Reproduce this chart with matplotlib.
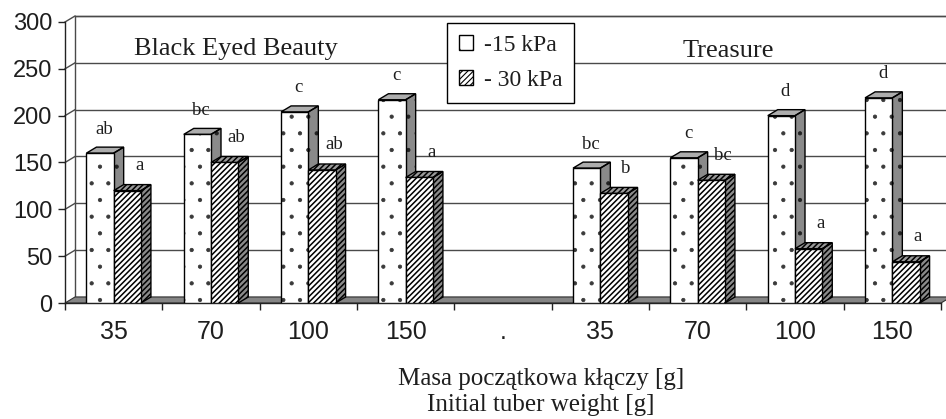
import matplotlib
matplotlib.use('Agg')
import matplotlib.pyplot as plt
from matplotlib.patches import Polygon, Rectangle, Patch
import numpy as np

# ---------------- data ----------------
categories = ['35', '70', '100', '150', '.', '35', '70', '100', '150']
kpa15 = [160, 180, 204, 217, None, 144, 155, 200, 219]
kpa30 = [120, 150, 142, 134, None, 117, 131, 58, 44]
letters15 = ['ab', 'bc', 'c', 'c', '', 'bc', 'c', 'd', 'd']
letters30 = ['a', 'ab', 'ab', 'a', '', 'b', 'bc', 'a', 'a']
yticks = [0, 50, 100, 150, 200, 250, 300]
series_names = ['-15 kPa', '- 30 kPa']
group_names = ['Black Eyed Beauty', 'Treasure']
xlabel_lines = ['Masa początkowa kłączy [g]', 'Initial tuber weight [g]']

SERIF = 'Liberation Serif'
SANS = 'Liberation Sans'
TXT = '#1e1e1e'
DOTS = '.'
STRIPES = '//////'
DOT_LW = 0.6
STRIPE_LW = 1.1


def hatch_lw(artists, lw):
    for a in artists:
        if hasattr(a, 'set_hatch_linewidth'):
            a.set_hatch_linewidth(lw)


W, H = 946, 419
fig = plt.figure(figsize=(W / 100, H / 100), dpi=100)
fig.patch.set_facecolor('white')
ax_l, ax_b, ax_w, ax_h = 65, 116, 876, 281
ax = fig.add_axes([ax_l / W, ax_b / H, ax_w / W, ax_h / H])
ax.patch.set_visible(False)
n = len(categories)
ymax = yticks[-1]
ax.set_xlim(0, n)
ax.set_ylim(0, ymax)

px_x = ax_w / n
px_y = ax_h / ymax
dx = 10 / px_x   # depth offset in data units
dy = 6 / px_y

GRID = '#4a4a4a'
# back wall
ax.add_patch(Rectangle((dx, dy), n, ymax, facecolor='white', edgecolor=GRID,
                       linewidth=1.0, zorder=0.5, clip_on=False))
for v in yticks[1:]:
    ax.plot([dx, n + dx], [v + dy, v + dy], color=GRID, lw=1.0, zorder=0.6, clip_on=False)
    ax.plot([0, dx], [v, v + dy], color=GRID, lw=1.0, zorder=0.6, clip_on=False)
# floor
ax.add_patch(Polygon([(0, 0), (n, 0), (n + dx, dy), (dx, dy)], closed=True,
                     facecolor='#858585', edgecolor='#333333', linewidth=0.8,
                     zorder=1, clip_on=False))

# bars
w = 0.28
centers = np.arange(n) + 0.5
idx = [i for i in range(n) if kpa15[i] is not None]
c = centers[idx]
v15 = np.array([kpa15[i] for i in idx], dtype=float)
v30 = np.array([kpa30[i] for i in idx], dtype=float)

plt.rcParams['hatch.linewidth'] = DOT_LW
b1 = ax.bar(c - w / 2, v15, width=w, facecolor='white', edgecolor='#3a3a3a',
            hatch=DOTS, linewidth=0, zorder=3)
hatch_lw(b1, DOT_LW)
ax.bar(c - w / 2, v15, width=w, fill=False, edgecolor='black', linewidth=1.0, zorder=3.1)
plt.rcParams['hatch.linewidth'] = STRIPE_LW
b2 = ax.bar(c + w / 2, v30, width=w, facecolor='white', edgecolor='black',
            hatch=STRIPES, linewidth=1.0, zorder=5)
hatch_lw(b2, STRIPE_LW)


def faces(x0, x1, v, ztop, top_fc, side_fc, hatch_top, hatch_side, hc, lw):
    plt.rcParams['hatch.linewidth'] = lw
    s = Polygon([(x1, 0), (x1 + dx, dy), (x1 + dx, v + dy), (x1, v)], closed=True,
                facecolor=side_fc, edgecolor=hc, linewidth=0,
                hatch=hatch_side, zorder=ztop, clip_on=False)
    t = Polygon([(x0, v), (x1, v), (x1 + dx, v + dy), (x0 + dx, v + dy)], closed=True,
                facecolor=top_fc, edgecolor=hc, linewidth=0,
                hatch=hatch_top, zorder=ztop, clip_on=False)
    for p in (s, t):
        ax.add_patch(p)
        hatch_lw([p], lw)
        ax.add_patch(Polygon(p.get_xy(), closed=True, fill=False, edgecolor='black',
                             linewidth=1.0, zorder=ztop + 0.05, clip_on=False))


for ci, a, b in zip(c, v15, v30):
    faces(ci - w, ci, a, 2, '#adadad', '#8a8a8a', None, DOTS, '#222222', DOT_LW)
    faces(ci, ci + w, b, 4, '#9a9a9a', '#8a8a8a', STRIPES, STRIPES, 'black', STRIPE_LW)

# letters
for k, i in enumerate(idx):
    ax.annotate(letters15[i], xy=(c[k] - w / 2, v15[k]), xytext=(4, 24),
                textcoords='offset pixels', ha='center', va='center',
                fontfamily=SERIF, fontsize=13.5, color=TXT, zorder=6,
                annotation_clip=False)
    ax.annotate(letters30[i], xy=(c[k] + w / 2, v30[k]), xytext=(12, 25),
                textcoords='offset pixels', ha='center', va='center',
                fontfamily=SERIF, fontsize=13.5, color=TXT, zorder=6,
                annotation_clip=False)

# axes styling
for s in ['top', 'right']:
    ax.spines[s].set_visible(False)
for s in ['left', 'bottom']:
    ax.spines[s].set_color('#222222')
    ax.spines[s].set_linewidth(1.0)
    ax.spines[s].set_zorder(1.5)
ax.set_yticks(yticks)
ax.set_yticklabels([str(t) for t in yticks], fontfamily=SANS, fontsize=17, color=TXT)
ax.tick_params(axis='y', length=5, width=1, direction='out', pad=4, colors='#222222',
               labelcolor=TXT)
ax.set_xticks(np.arange(n + 1))
ax.set_xticklabels([''] * (n + 1))
ax.set_xticks(centers, minor=True)
ax.set_xticklabels(categories, minor=True, fontfamily=SANS, fontsize=18, color=TXT)
ax.tick_params(axis='x', which='major', length=5, width=1, direction='out', colors='#222222')
ax.tick_params(axis='x', which='minor', length=0, pad=12, labelcolor=TXT)

# group names
fig.text(236 / W, 1 - 49 / H, group_names[0], ha='center', va='center',
         fontfamily=SERIF, fontsize=19, color=TXT)
fig.text(728 / W, 1 - 51 / H, group_names[1], ha='center', va='center',
         fontfamily=SERIF, fontsize=19, color=TXT)

# axis title
fig.text(541 / W, 1 - 379 / H, xlabel_lines[0], ha='center', va='center',
         fontfamily=SERIF, fontsize=18, color=TXT)
fig.text(541 / W, 1 - 405 / H, xlabel_lines[1], ha='center', va='center',
         fontfamily=SERIF, fontsize=18, color=TXT)

# legend
plt.rcParams['hatch.linewidth'] = 0.8
handles = [Patch(facecolor='white', edgecolor='black', hatch=DOTS, linewidth=1.0),
           Patch(facecolor='white', edgecolor='black', hatch='//////', linewidth=1.0)]
leg = fig.legend(handles, series_names, loc='upper left',
                 bbox_to_anchor=(447 / W, 1 - 23 / H), bbox_transform=fig.transFigure,
                 frameon=True, fancybox=False, edgecolor='black', framealpha=1,
                 prop={'family': SERIF, 'size': 17}, handlelength=0.6, handleheight=0.6,
                 handletextpad=0.45, labelspacing=0.6, borderpad=0.5, borderaxespad=0)
leg.get_frame().set_linewidth(1.0)
for t in leg.get_texts():
    t.set_color(TXT)

fig.savefig('out.png', dpi=100, facecolor='white')
